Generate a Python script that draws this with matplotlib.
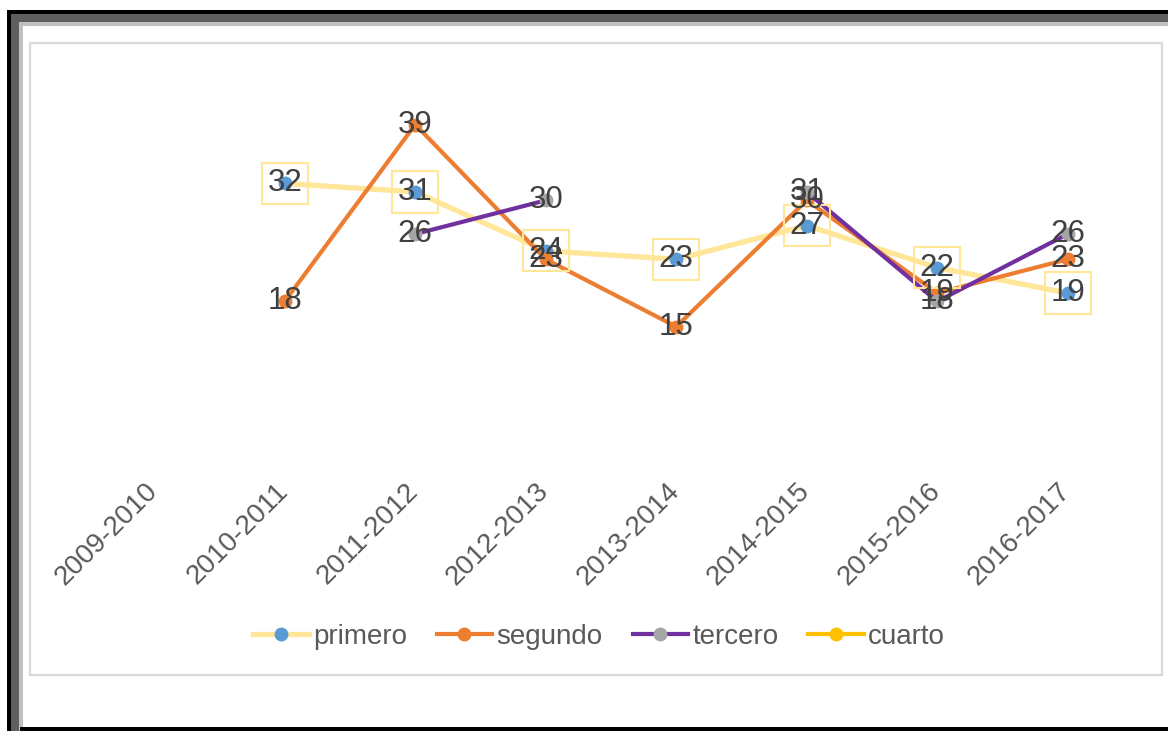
import numpy as np
import matplotlib
matplotlib.use('Agg')
import matplotlib.pyplot as plt
from matplotlib.patches import Rectangle
from matplotlib.transforms import ScaledTranslation

plt.rcParams['font.family'] = ['Liberation Sans', 'DejaVu Sans']

years = ['2009-2010', '2010-2011', '2011-2012', '2012-2013',
         '2013-2014', '2014-2015', '2015-2016', '2016-2017']
primero = [np.nan, 32, 31, 24, 23, 27, 22, 19]
segundo = [np.nan, 18, 39, 23, 15, 30, 19, 23]
tercero = [np.nan, np.nan, 26, 30, np.nan, 31, 18, 26]
cuarto = [np.nan] * 8

W, H = 1168, 731
fig = plt.figure(figsize=(W / 100, H / 100), dpi=100)
fig.patch.set_facecolor('white')


def px_rect(x0, y0, x1, y1, **kw):
    # rectangle given in image pixels (origin top-left)
    r = Rectangle((x0 / W, 1 - y1 / H), (x1 - x0) / W, (y1 - y0) / H,
                  transform=fig.transFigure, **kw)
    fig.add_artist(r)


# outer window frame
px_rect(7, 10, W, 14, color='black', lw=0)
px_rect(11, 14, W, 22, color='#5f5f5f', lw=0)
px_rect(19, 22, W, 26, color='#c0c0c0', lw=0)
px_rect(7, 10, 11, H, color='black', lw=0)
px_rect(11, 14, 19, H, color='#5f5f5f', lw=0)
px_rect(19, 22, 23, H, color='#c0c0c0', lw=0)
px_rect(20, 727, W, H, color='black', lw=0)
# chart area border
px_rect(30, 43, 1162, 675, facecolor='none', edgecolor='#d9d9d9', lw=1.6)

ax = fig.add_axes([89 / W, 1 - 453 / H, 1044 / W, (453 - 74) / H])
x = np.arange(len(years))

ax.plot(x, primero, color='#FFE699', lw=3.8, marker='o', ms=9,
        mfc='#5B9BD5', mec='#5B9BD5', zorder=2, label='primero')
ax.plot(x, segundo, color='#ED7D31', lw=3.0, marker='o', ms=9,
        mfc='#ED7D31', mec='#ED7D31', zorder=3, label='segundo')
ax.plot(x, tercero, color='#7030A0', lw=3.0, marker='o', ms=9,
        mfc='#A5A5A5', mec='#A5A5A5', zorder=4, label='tercero')
ax.plot(x, cuarto, color='#FFC000', lw=3.0, marker='o', ms=9,
        mfc='#FFC000', mec='#FFC000', zorder=4, label='cuarto')

for xi, v in zip(x, primero):
    if not np.isnan(v):
        ax.text(xi, v, str(v), ha='center', va='center', fontsize=22.5,
                color='#404040', zorder=6,
                bbox=dict(boxstyle='square,pad=0.18', fc='none',
                          ec='#FFE699', lw=1.5))
for series in (segundo, tercero):
    for xi, v in zip(x, series):
        if not np.isnan(v):
            ax.text(xi, v, str(v), ha='center', va='center', fontsize=22.5,
                    color='#404040', zorder=6)

ax.set_xlim(-0.5, len(years) - 0.5)
ax.set_ylim(0, 45)
ax.set_xticks(x)
ax.set_xticklabels(years, rotation=45, ha='right', va='top',
                   rotation_mode='anchor', fontsize=20, color='#595959')
ax.tick_params(axis='x', length=0, pad=18)
shift = ScaledTranslation(-10 / 100, 0, fig.dpi_scale_trans)
for lab in ax.get_xticklabels():
    lab.set_transform(lab.get_transform() + shift)
ax.set_yticks([])
for s in ax.spines.values():
    s.set_visible(False)
ax.patch.set_alpha(0)

fig.legend(loc='center', bbox_to_anchor=(599 / W, 1 - 637 / H), ncol=4,
           frameon=False, fontsize=20, labelcolor='#595959',
           handlelength=2.0, handletextpad=0.15, columnspacing=1.08)

fig.savefig('out.png', dpi=100)
